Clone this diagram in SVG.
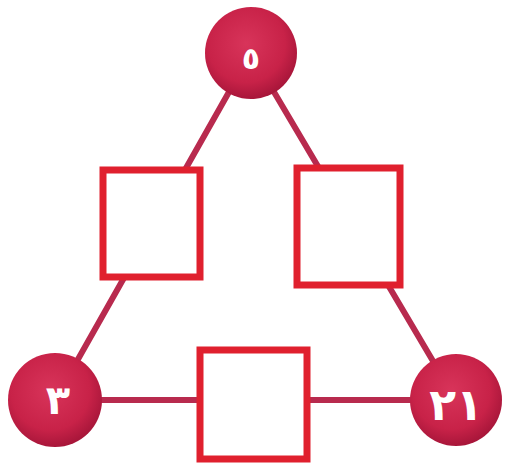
<svg xmlns="http://www.w3.org/2000/svg" width="512" height="469" viewBox="0 0 512 469">
<defs>
<radialGradient id="ball" cx="45%" cy="40%" r="60%">
<stop offset="0" stop-color="#d8345a"/>
<stop offset="0.7" stop-color="#c82248"/>
<stop offset="1" stop-color="#a8163a"/>
</radialGradient>
<style>
.edge{stroke:#b82a4e;stroke-width:6;fill:none;stroke-linecap:round}
.ball{fill:url(#ball)}
.box{fill:#ffffff;stroke:#e0202e;stroke-width:7}
.num{fill:#ffffff;font-family:"DejaVu Sans","Noto Sans",sans-serif;font-weight:bold;text-anchor:middle;dominant-baseline:central}
</style>
</defs>
<rect width="512" height="469" fill="#ffffff"/>
<g id="connectors">
<line class="edge" x1="251" y1="53" x2="55" y2="400"/>
<line class="edge" x1="251" y1="53" x2="456" y2="400"/>
<line class="edge" x1="55" y1="400" x2="456" y2="400"/>
</g>
<g id="box-left"><rect class="box" x="103" y="170" width="97" height="107"/></g>
<g id="box-right"><rect class="box" x="297" y="168" width="103" height="117"/></g>
<g id="box-bottom"><rect class="box" x="200" y="350" width="107" height="109"/></g>
<g id="node-top"><circle class="ball" cx="251" cy="53" r="46"/><text class="num" x="251" y="58" font-size="30">٥</text></g>
<g id="node-left"><circle class="ball" cx="55" cy="400" r="47"/><text class="num" x="58" y="400" font-size="40">٣</text></g>
<g id="node-right"><circle class="ball" cx="456" cy="400" r="46"/><text class="num" x="456" y="404" font-size="44">٢١</text></g>
</svg>
